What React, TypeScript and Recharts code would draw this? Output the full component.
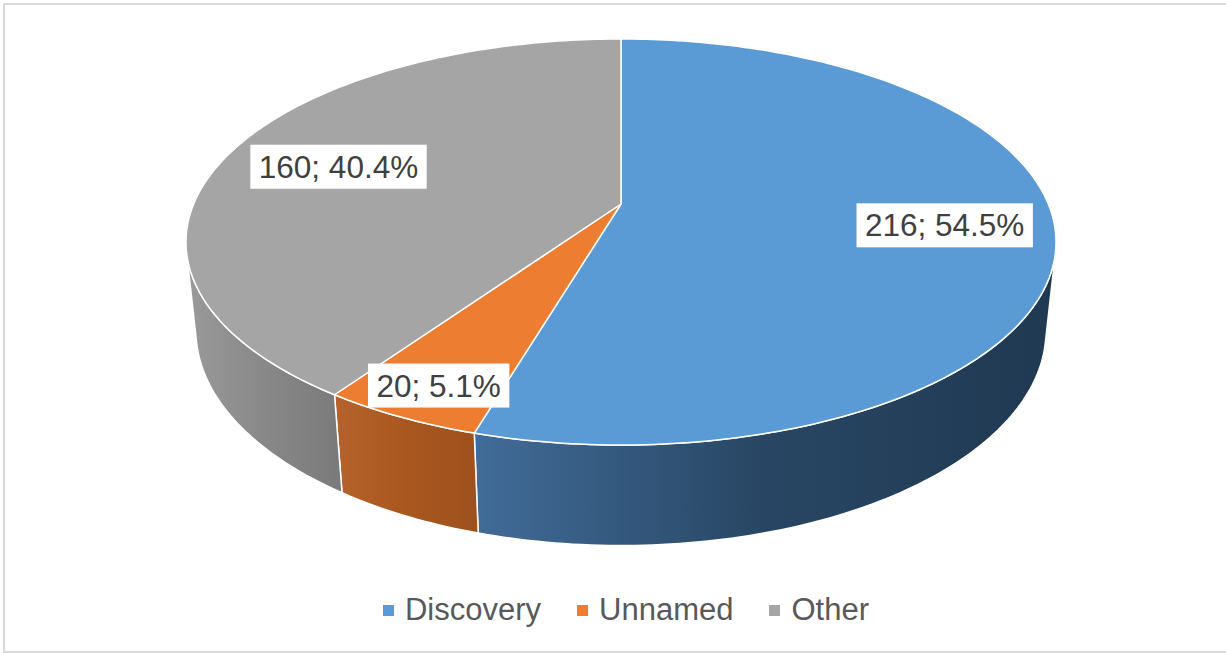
import React from 'react';
import { PieChart, Pie, Cell, Legend } from 'recharts';

// ---- data ----
const categories: string[] = ['Discovery', 'Unnamed', 'Other'];
const counts: number[] = [216, 20, 160];
const colors: string[] = ['#5B9BD5', '#ED7D31', '#A5A5A5'];

const data = categories.map((name, i) => ({ name, value: counts[i] }));

// ---- style / geometry config ----
const wallStops: string[][] = [
  ['#416C99', '#284663', '#203952'],
  ['#B6622C', '#A9571F', '#9E511D'],
  ['#9A9A9A', '#888888', '#7A7A7A'],
];
const LABEL_R: number[] = [0.75, 0.85, 0.72];
const LABEL_DY: number[] = [0, 6, 3];
const FONT = '"Liberation Sans", Arial, sans-serif';

// perspective projection of a tilted disc
const Z0 = 4.748;
const SA = 0.4584;
const CA = 0.8888;
const THICK = 0.2356;
const RAD = Math.PI / 180;
const BETA = Math.asin(1 / (Z0 * CA)) / RAD; // silhouette angle of the side wall

function project(cx: number, cy: number, R: number, deg: number, r: number, h: number): [number, number] {
  const F = R * Math.sqrt(Z0 * Z0 - CA * CA);
  const X = r * Math.cos(deg * RAD);
  const Y = r * Math.sin(deg * RAD);
  const depth = Z0 + Y * CA - h * SA;
  const v = Y * SA + h * CA;
  return [cx + (F * X) / depth, cy - (F * v) / depth];
}

function arcPoints(cx: number, cy: number, R: number, a: number, b: number, h: number): [number, number][] {
  const n = Math.max(2, Math.ceil(Math.abs(b - a)));
  const pts: [number, number][] = [];
  for (let i = 0; i <= n; i++) {
    const t = a + ((b - a) * i) / n;
    pts.push(project(cx, cy, R, t, 1, h));
  }
  return pts;
}

const toPath = (pts: [number, number][]) =>
  pts.map((p, i) => `${i === 0 ? 'M' : 'L'}${p[0].toFixed(2)},${p[1].toFixed(2)}`).join(' ');

const Slice3D = (props: any) => {
  const { cx, cy, startAngle, endAngle, outerRadius, fill } = props;
  const name = props.name ?? props.payload?.name;
  const idx = Math.max(0, categories.indexOf(name));
  const lo = Math.min(startAngle, endAngle);
  const hi = Math.max(startAngle, endAngle);
  const wLo = Math.max(lo, -180 + BETA);
  const wHi = Math.min(hi, -BETA);
  let wall: string | null = null;
  if (wHi > wLo) {
    const top = arcPoints(cx, cy, outerRadius, wLo, wHi, 0);
    const bot = arcPoints(cx, cy, outerRadius, wHi, wLo, -THICK);
    wall = toPath([...top, ...bot]) + ' Z';
  }
  const c = project(cx, cy, outerRadius, 0, 0, 0);
  const face = toPath([c, ...arcPoints(cx, cy, outerRadius, startAngle, endAngle, 0)]) + ' Z';
  const gid = `wallGrad${idx}`;
  const stops = wallStops[idx];
  return (
    <g>
      <defs>
        <linearGradient id={gid} x1="0" y1="0" x2="1" y2="0">
          <stop offset="0%" stopColor={stops[0]} />
          <stop offset="50%" stopColor={stops[1]} />
          <stop offset="100%" stopColor={stops[2]} />
        </linearGradient>
      </defs>
      {wall && <path d={wall} fill={`url(#${gid})`} stroke="#FFFFFF" strokeWidth={1.5} strokeLinejoin="round" />}
      <path d={face} fill={fill} stroke="#FFFFFF" strokeWidth={1.5} strokeLinejoin="round" />
    </g>
  );
};

const CW: Record<string, number> = { ';': 0.278, ' ': 0.278, '.': 0.278, '%': 0.889 };
const textWidth = (s: string, size: number) =>
  s.split('').reduce((acc, ch) => acc + (CW[ch] ?? 0.556), 0) * size;

const renderLabel = (props: any) => {
  const { cx, cy, midAngle, outerRadius, value, percent } = props;
  const name = props.name ?? props.payload?.name;
  const idx = Math.max(0, categories.indexOf(name));
  const [x, y0] = project(cx, cy, outerRadius, midAngle, LABEL_R[idx], 0);
  const y = y0 + LABEL_DY[idx];
  const text = `${value}; ${(percent * 100).toFixed(1)}%`;
  const size = 31.5;
  const w = textWidth(text, size) + 17;
  const h = 44;
  return (
    <g key={`lbl-${idx}`}>
      <rect x={x - w / 2} y={y - h / 2} width={w} height={h} fill="#FFFFFF" />
      <text x={x} y={y} textAnchor="middle" dominantBaseline="central" fill="#404040" fontSize={size} fontFamily={FONT}>
        {text}
      </text>
    </g>
  );
};

const renderLegend = (props: any) => {
  const raw: any[] = props.payload && props.payload.length ? props.payload : categories.map((c, i) => ({ value: c, color: colors[i] }));
  const payload = [...raw].sort((a, b) => categories.indexOf(a.value) - categories.indexOf(b.value));
  return (
    <div style={{ display: 'flex', justifyContent: 'center', alignItems: 'center', height: 40, paddingLeft: 26, fontFamily: FONT }}>
      {payload.map((p: any, i: number) => (
        <div key={i} style={{ display: 'flex', alignItems: 'center', marginRight: i < payload.length - 1 ? 36 : 0 }}>
          <span style={{ display: 'inline-block', width: 11, height: 11, background: p.color, marginRight: 11 }} />
          <span style={{ fontSize: 31, color: '#595959', lineHeight: '40px' }}>{p.value}</span>
        </div>
      ))}
    </div>
  );
};

export default function App() {
  return (
    <div style={{ position: 'absolute', left: 0, top: 0, width: 1226, height: 653, overflow: 'hidden', background: '#FFFFFF' }}>
      <div
        style={{
          position: 'absolute',
          left: 3,
          top: 3,
          width: 1235,
          height: 650,
          boxSizing: 'border-box',
          border: '2.5px solid #D9D9D9',
        }}
      />
      <div style={{ position: 'absolute', left: 0, top: 0 }}>
        <PieChart width={1226} height={653} margin={{ top: 0, right: 0, bottom: 0, left: 0 }}>
          <Pie
            data={data}
            dataKey="value"
            nameKey="name"
            cx={621}
            cy={204}
            outerRadius={435}
            startAngle={90}
            endAngle={-270}
            stroke="#FFFFFF"
            isAnimationActive={false}
            shape={Slice3D}
            label={renderLabel}
            labelLine={false}
          >
            {data.map((d, i) => (
              <Cell key={d.name} fill={colors[i]} />
            ))}
          </Pie>
          <Legend
            verticalAlign="bottom"
            content={renderLegend}
            wrapperStyle={{ position: 'absolute', left: 0, top: 590, width: 1226, height: 40, bottom: 'auto' }}
          />
        </PieChart>
      </div>
    </div>
  );
}
